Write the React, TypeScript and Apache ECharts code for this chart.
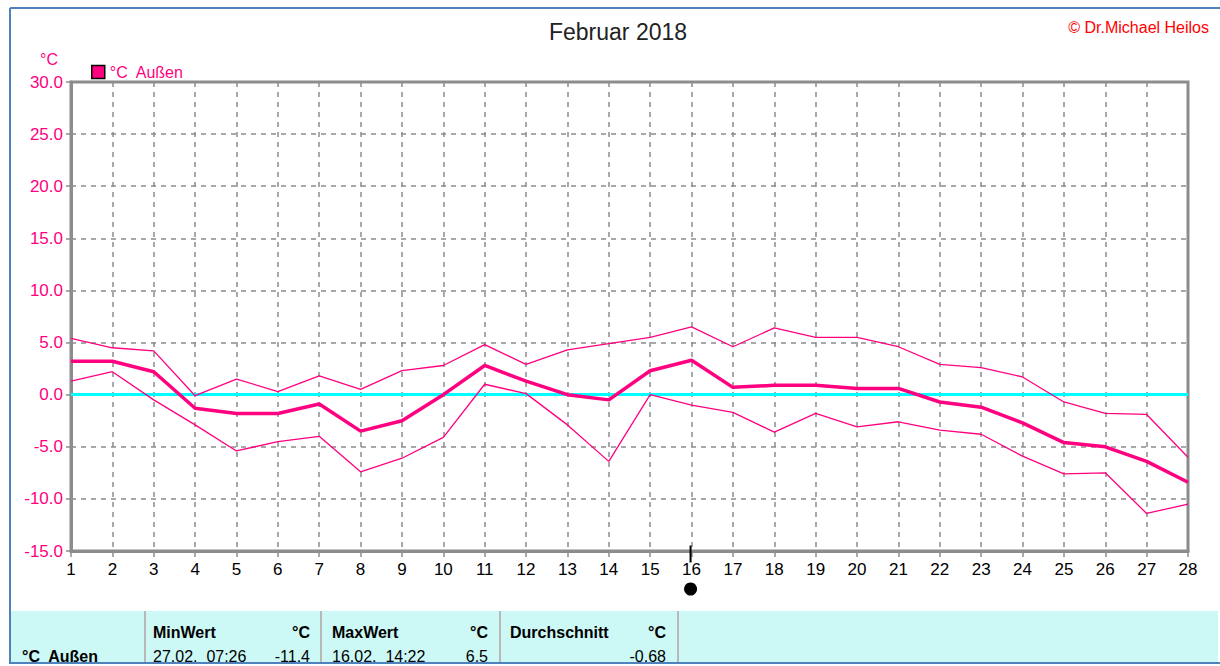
import React, { useEffect, useRef } from "react";
import * as echarts from "echarts";

const days = [1, 2, 3, 4, 5, 6, 7, 8, 9, 10, 11, 12, 13, 14, 15, 16, 17, 18, 19, 20, 21, 22, 23, 24, 25, 26, 27, 28];
const maxVals = [5.4, 4.5, 4.2, -0.1, 1.5, 0.3, 1.8, 0.5, 2.3, 2.8, 4.8, 2.9, 4.3, 4.9, 5.5, 6.5, 4.6, 6.4, 5.5, 5.5, 4.6, 2.9, 2.6, 1.7, -0.7, -1.8, -1.9, -6.0];
const meanVals = [3.2, 3.2, 2.2, -1.3, -1.8, -1.8, -0.9, -3.5, -2.5, 0.0, 2.8, 1.3, 0.0, -0.5, 2.3, 3.3, 0.7, 0.9, 0.9, 0.6, 0.6, -0.7, -1.2, -2.7, -4.6, -5.0, -6.4, -8.4];
const minVals = [1.3, 2.2, -0.5, -2.9, -5.4, -4.5, -4.0, -7.4, -6.1, -4.1, 1.0, 0.1, -2.9, -6.4, 0.0, -1.0, -1.7, -3.6, -1.8, -3.1, -2.6, -3.4, -3.8, -5.9, -7.6, -7.5, -11.4, -10.5];
const markedDay = 16;

const yMin = -15;
const yMax = 30;
const yStep = 5;

const title = "Februar 2018";
const copyright = "\u00A9 Dr.Michael Heilos";
const seriesName = "\u00B0C  Au\u00DFen";
const unit = "\u00B0C";

const tableHeaders = ["MinWert", "MaxWert", "Durchschnitt"];
const tableRowLabel = "\u00B0C  Au\u00DFen";
const tableMinTime = "27.02.  07:26";
const tableMinVal = "-11.4";
const tableMaxTime = "16.02.  14:22";
const tableMaxVal = "6.5";
const tableAvg = "-0.68";

const PINK = "#FF0080";
const FONT = "'Liberation Sans', Arial, sans-serif";

export default function App() {
  const ref = useRef<HTMLDivElement>(null);
  useEffect(() => {
    if (!ref.current) return;
    const chart = echarts.init(ref.current, undefined, { renderer: "svg" });
    const pairs = (vals: number[]) => days.map((d, i) => [d, vals[i]]);
    const thin = { color: PINK, width: 1.3 };
    const tableText = (x: number, y: number, text: string, align: string, bold = true) => ({
      type: "text",
      x,
      y,
      style: {
        text,
        fill: "#000",
        font: `${bold ? "bold " : ""}16px ${FONT}`,
        textAlign: align,
        textVerticalAlign: "middle",
      },
      z: 10,
    });
    const sep = (x: number) => ({
      type: "line",
      shape: { x1: x, y1: 611, x2: x, y2: 662 },
      style: { stroke: "#b8b8b8", lineWidth: 2 },
      z: 5,
    });
    chart.setOption({
      animation: false,
      backgroundColor: "#fff",
      textStyle: { fontFamily: FONT },
      grid: {
        left: 71,
        top: 82,
        width: 1117,
        height: 469,
        show: true,
        borderColor: "#8c8c8c",
        borderWidth: 3,
        backgroundColor: "transparent",
      },
      legend: {
        left: 86,
        top: 59,
        itemWidth: 13,
        itemHeight: 13,
        itemGap: 8,
        textStyle: { color: PINK, fontSize: 16, fontFamily: FONT },
        data: [
          {
            name: seriesName,
            icon: "rect",
            itemStyle: { color: PINK, borderColor: "#000", borderWidth: 1.5 },
          },
        ],
      },
      xAxis: {
        type: "value",
        min: 1,
        max: 28,
        interval: 1,
        axisLine: { show: true, onZero: false, lineStyle: { color: "#8c8c8c", width: 3 } },
        axisTick: { show: true, length: 6, lineStyle: { color: "#8c8c8c", width: 1.5 } },
        axisLabel: { color: "#000", fontSize: 17, margin: 10, fontFamily: FONT },
        splitLine: { show: true, lineStyle: { color: "#8c8c8c", width: 1.5, type: [5, 5] } },
      },
      yAxis: {
        type: "value",
        min: yMin,
        max: yMax,
        interval: yStep,
        axisLine: { show: true, lineStyle: { color: "#8c8c8c", width: 3 } },
        axisTick: { show: true, length: 5, lineStyle: { color: "#8c8c8c", width: 1.5 } },
        axisLabel: {
          color: PINK,
          fontSize: 17,
          margin: 8,
          fontFamily: FONT,
          formatter: (v: number) => v.toFixed(1),
        },
        splitLine: { show: true, lineStyle: { color: "#8c8c8c", width: 1.5, type: [5, 5] } },
      },
      series: [
        {
          name: "max",
          type: "line",
          data: pairs(maxVals),
          showSymbol: false,
          lineStyle: thin,
          z: 3,
          markLine: {
            silent: true,
            symbol: "none",
            label: { show: false },
            lineStyle: { color: "#00FFFF", width: 3, type: "solid" },
            data: [{ yAxis: 0 }],
            z: 1,
          },
        },
        {
          name: "min",
          type: "line",
          data: pairs(minVals),
          showSymbol: false,
          lineStyle: thin,
          z: 3,
        },
        {
          name: seriesName,
          type: "line",
          data: pairs(meanVals),
          showSymbol: false,
          itemStyle: { color: PINK },
          lineStyle: { color: PINK, width: 3.5 },
          z: 4,
          markPoint: {
            silent: true,
            label: { show: false },
            data: [
              {
                coord: [markedDay, yMin],
                symbol: "rect",
                symbolSize: [2, 17],
                symbolOffset: [-1, 3],
                itemStyle: { color: "#000" },
              },
              {
                coord: [markedDay, yMin],
                symbol: "circle",
                symbolSize: 13,
                symbolOffset: [-1, 38],
                itemStyle: { color: "#000" },
              },
            ],
          },
        },
      ],
      graphic: [
        {
          type: "text",
          x: 618,
          y: 32,
          style: {
            text: title,
            fill: "#222",
            font: `23px ${FONT}`,
            textAlign: "center",
            textVerticalAlign: "middle",
          },
        },
        {
          type: "text",
          x: 1209,
          y: 27,
          style: {
            text: copyright,
            fill: "#FF0000",
            font: `16px ${FONT}`,
            textAlign: "right",
            textVerticalAlign: "middle",
          },
        },
        {
          type: "text",
          x: 49,
          y: 59,
          style: {
            text: unit,
            fill: PINK,
            font: `16px ${FONT}`,
            textAlign: "center",
            textVerticalAlign: "middle",
          },
        },
        {
          type: "rect",
          shape: { x: 11, y: 611, width: 1207, height: 52 },
          style: { fill: "#CCF8F6" },
          z: 1,
        },
        sep(145),
        sep(321),
        sep(500),
        sep(678),
        tableText(153, 632, tableHeaders[0], "left"),
        tableText(310, 632, unit, "right"),
        tableText(332, 632, tableHeaders[1], "left"),
        tableText(488, 632, unit, "right"),
        tableText(510, 632, tableHeaders[2], "left"),
        tableText(666, 632, unit, "right"),
        tableText(22, 656, tableRowLabel, "left"),
        tableText(153, 656, tableMinTime, "left", false),
        tableText(310, 656, tableMinVal, "right", false),
        tableText(332, 656, tableMaxTime, "left", false),
        tableText(488, 656, tableMaxVal, "right", false),
        tableText(666, 656, tableAvg, "right", false),
        {
          type: "rect",
          shape: { x: 0, y: 663, width: 1220, height: 3 },
          style: { fill: "#fff" },
          z: 20,
        },
        {
          type: "line",
          shape: { x1: 10, y1: 663, x2: 1220, y2: 663 },
          style: { stroke: "#4F81BD", lineWidth: 2 },
          z: 21,
        },
        {
          type: "line",
          shape: { x1: 10, y1: 8, x2: 1220, y2: 8 },
          style: { stroke: "#4F81BD", lineWidth: 2 },
          z: 21,
        },
        {
          type: "line",
          shape: { x1: 10, y1: 8, x2: 10, y2: 664 },
          style: { stroke: "#4F81BD", lineWidth: 2 },
          z: 21,
        },
      ],
    });
    return () => chart.dispose();
  }, []);
  return (
    <div style={{ position: "fixed", left: 0, top: 0, width: 1220, height: 666 }}>
      <div ref={ref} style={{ width: 1220, height: 666 }} />
    </div>
  );
}
